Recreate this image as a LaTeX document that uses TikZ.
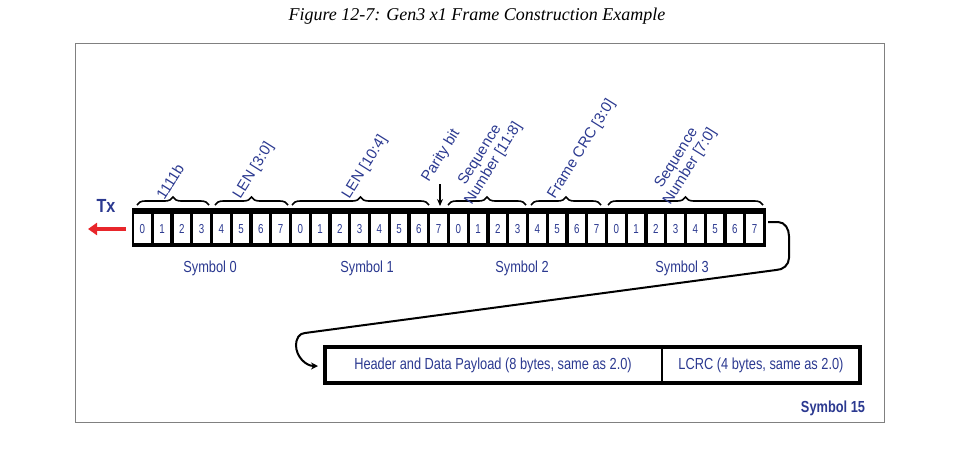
\documentclass[tikz,border=0pt]{standalone}
\usepackage{fontspec}
\setmainfont{Liberation Sans}
\newfontfamily\capfont{Liberation Serif}
\usetikzlibrary{decorations.pathreplacing,arrows.meta}
\definecolor{lab}{HTML}{2B3990}
\definecolor{txred}{HTML}{E8262B}
\begin{document}
\begin{tikzpicture}[x=1pt,y=-1pt,
  cellnum/.style={font=\fontsize{13}{13}\selectfont,text=lab,xscale=0.75},
  lbl/.style={font=\fontsize{16}{16}\selectfont,text=lab,xscale=0.8},
  rlbl/.style={font=\fontsize{15}{16}\selectfont,text=lab,rotate=58,anchor=south west,align=center,inner sep=1pt},
  br/.style={decorate,decoration={brace,amplitude=8pt},line width=1.6pt}]
\useasboundingbox (0,0) rectangle (953,451);
\node[font=\capfont\itshape\fontsize{18}{18}\selectfont] (title) at (477,16) {Figure 12-7: Gen3 x1 Frame Construction Example};
\draw[gray,line width=1pt] (75,43) rectangle (884,422);
% bar
\fill (132,208) rectangle (766,247);
\foreach \i in {0,...,31}{
  \pgfmathsetmacro\xa{132+\i*19.75+2.2}
  \pgfmathsetmacro\xb{132+(\i+1)*19.75-1.2}
  \pgfmathtruncatemacro\n{mod(\i,8)}
  \fill[white] (\xa,214) rectangle (\xb,243);
  \node[cellnum] (c\i) at ({(\xa+\xb)/2},229) {\n};
}
% Tx
\node[font=\bfseries\fontsize{19}{19}\selectfont,text=lab,xscale=0.85] (tx) at (106,206) {Tx};
\coordinate (ta) at (126,229);
\coordinate (tb) at (88,229);
\draw[txred,line width=3.5pt,-{Triangle[length=9pt,width=12pt]}] (ta) -- (tb);
% braces
\draw[br] (137,205) -- node[midway,above=7pt,inner sep=0] (b0) {} (209,205);
\draw[br] (215,205) -- node[midway,above=7pt,inner sep=0] (b1) {} (288,205);
\draw[br] (292,205) -- node[midway,above=7pt,inner sep=0] (b2) {} (429,205);
\draw[br] (448,205) -- node[midway,above=7pt,inner sep=0] (b3) {} (526,205);
\draw[br] (531,205) -- node[midway,above=7pt,inner sep=0] (b4) {} (601,205);
\draw[br] (608,205) -- node[midway,above=7pt,inner sep=0] (b5) {} (763,205);
\node[rlbl] (l0) at ([xshift=-8pt,yshift=-6pt]b0) {1111b};
\node[rlbl] (l1) at ([xshift=-8pt,yshift=-6pt]b1) {LEN [3:0]};
\node[rlbl] (l2) at ([xshift=-8pt,yshift=-6pt]b2) {LEN [10:4]};
\node[rlbl] (l3) at ([xshift=-12pt,yshift=-12pt]b3) {Sequence\\Number [11:8]};
\node[rlbl] (l4) at ([xshift=-8pt,yshift=-6pt]b4) {Frame CRC [3:0]};
\node[rlbl] (l5) at ([xshift=-12pt,yshift=-12pt]b5) {Sequence\\Number [7:0]};
\coordinate (pa) at (440,184);
\coordinate (pb) at (440,206);
\node[rlbl] (lp) at ([xshift=-8pt,yshift=-2pt]pa) {Parity bit};
\draw[line width=1.2pt,-{Stealth[length=7pt,width=6pt]}] (pa) -- (pb);
% symbol labels
\node[lbl] (s0) at (210,268) {Symbol 0};
\node[lbl] (s1) at (367,268) {Symbol 1};
\node[lbl] (s2) at (522,268) {Symbol 2};
\node[lbl] (s3) at (682,268) {Symbol 3};
% bottom boxes
\draw[line width=4pt] (325,347) rectangle (860,383);
\draw[line width=2pt] (662,347) -- (662,383);
\node[lbl] (hdr) at (493,365) {Header and Data Payload (8 bytes, same as 2.0)};
\node[lbl] (lcrc) at (761,365) {LCRC (4 bytes, same as 2.0)};
\node[font=\bfseries\fontsize{16}{16}\selectfont,text=lab,xscale=0.8] (s15) at (833,408) {Symbol 15};
% connector
\draw[line width=2pt,-{Stealth[length=7pt,width=7pt]}] (768,222) -- (778,222) to[out=0,in=90] (789,236) -- (789,258) to[out=-90,in=0] (776,270)
  -- (305,333) to[out=180,in=90] (296,345) to[out=-90,in=180] (318,366);
\end{tikzpicture}
\end{document}
